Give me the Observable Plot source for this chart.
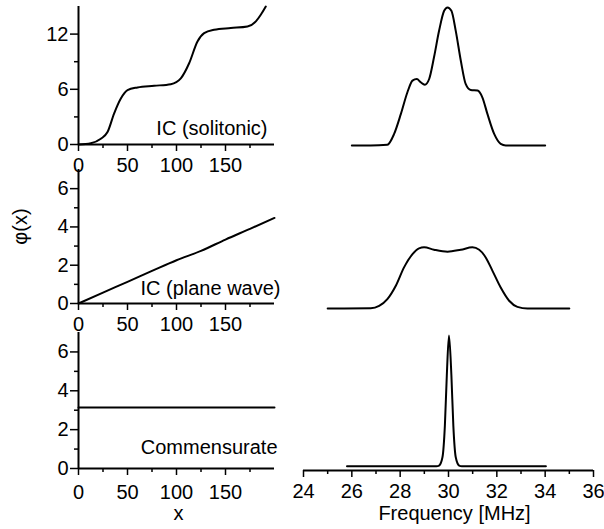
<!DOCTYPE html>
<html><head><meta charset="utf-8">
<script src="https://cdn.jsdelivr.net/npm/d3@7"></script>
<script src="https://cdn.jsdelivr.net/npm/@observablehq/plot@0.6"></script>
<style>
body{margin:0;background:#fff;}
#chart{position:relative;width:604px;height:529px;overflow:hidden;background:#fff;}
#chart svg{position:absolute;left:0;top:0;}
</style></head><body><div id="chart"></div>
<script>
// ---- left panels: phase profile phi(x) ----
const xSol   = [0, 12.6, 22.8, 29.6, 36.3, 43.2, 50, 60.2, 77.2, 94.2, 104.4, 112.9, 121.4, 128.2, 138.4, 155.4, 172.4, 181, 186, 191.1];
const phiSol = [0, 0.14, 0.62, 1.35, 3.36, 5.0, 5.91, 6.2, 6.38, 6.56, 7.19, 8.83, 11.2, 12.1, 12.47, 12.66, 12.83, 13.38, 14.1, 15.0];
const xPW    = [0, 25, 50, 75, 100, 125, 150, 175, 200];
const phiPW  = [0, 0.57, 1.13, 1.7, 2.26, 2.75, 3.34, 3.9, 4.47];
const xCom   = [0, 200];
const phiCom = [3.14, 3.14];
// ---- right panels: NMR spectra (arbitrary intensity) ----
const f1 = [26, 26.78, 27.47, 27.75, 28.03, 28.30, 28.51, 28.69, 28.85, 29.02, 29.2, 29.4, 29.61, 29.82, 29.96, 30.12, 30.3, 30.51, 30.71, 30.92, 31.2, 31.4, 31.61, 31.89, 32.16, 32.37, 34];
const s1 = [0, 0, 0.005, 0.084, 0.229, 0.386, 0.47, 0.482, 0.458, 0.441, 0.482, 0.639, 0.831, 0.976, 1.0, 0.976, 0.831, 0.614, 0.446, 0.402, 0.398, 0.349, 0.229, 0.084, 0.012, 0, 0];
const f2 = [25, 26.78, 27.13, 27.47, 27.82, 28.16, 28.51, 28.78, 28.99, 29.4, 29.96, 30.51, 30.99, 31.27, 31.54, 31.82, 32.16, 32.51, 32.85, 33.27, 35];
const s2 = [0, 0.002, 0.019, 0.068, 0.165, 0.298, 0.394, 0.436, 0.443, 0.426, 0.412, 0.426, 0.443, 0.426, 0.370, 0.273, 0.152, 0.056, 0.012, 0, 0];
const f3 = [25.8, 29.5, 29.61, 29.75, 29.85, 29.93, 30.02, 30.12, 30.2, 30.3, 30.44, 30.55, 34.03];
const s3 = [0, 0, 0.005, 0.065, 0.295, 0.659, 0.949, 0.659, 0.295, 0.065, 0.005, 0, 0];
// ---- ticks and labels ----
const xTicks = [0, 50, 100, 150];
const xMinor = [25, 75, 125, 175];
const yTicksSol = [0, 6, 12];
const yMinorSol = [3, 9];
const yTicks = [0, 2, 4, 6];
const yMinor = [1, 3, 5];
const fTicks = [24, 26, 28, 30, 32, 34, 36];
const fMinor = [25, 27, 29, 31, 33, 35];
const labelSol = "IC (solitonic)";
const labelPW = "IC (plane wave)";
const labelCom = "Commensurate";
const yLabel = "φ(x)";
const xLabel = "x";
const fLabel = "Frequency [MHz]";
const specMin = -0.031;

const W = 604, H = 529;
const FONT = "'Liberation Sans', Arial, Helvetica, sans-serif";
const base = (o) => Plot.plot(Object.assign({
  width: W, height: H,
  style: {background: "transparent", fontFamily: FONT, fontSize: "20px", color: "#000", overflow: "visible"}
}, o));

function leftPanel({xs, ys, yDomain, yT, yM, mTop, mBottom, label, ldx, ldy, xPad, extra = []}) {
  return base({
    marginLeft: 78, marginRight: 330, marginTop: mTop, marginBottom: mBottom,
    x: {domain: [0, 200], label: null},
    y: {domain: yDomain, label: null},
    marks: [
      Plot.axisY(yT, {tickSize: 8, tickPadding: 2, strokeWidth: 1.5, label: null}),
      Plot.axisY(yM, {tickSize: 4, fill: "none", strokeWidth: 1.5, label: null}),
      Plot.axisX(xTicks, {tickSize: 7, tickPadding: xPad, strokeWidth: 1.5, label: null}),
      Plot.axisX(xMinor, {tickSize: 4, fill: "none", strokeWidth: 1.5, label: null}),
      Plot.ruleX([0], {strokeWidth: 2}),
      Plot.ruleY([0], {strokeWidth: 2}),
      Plot.line(xs, {x: xs, y: ys, curve: "monotone-x", strokeWidth: 2}),
      Plot.text([label], {frameAnchor: "bottom-right", textAnchor: "end", lineAnchor: "middle", dx: ldx, dy: ldy}),
      ...extra
    ]
  });
}

function rightPanel({fs, ss, yDomain, mTop, mBottom, axes = false}) {
  const marks = [Plot.line(fs, {x: fs, y: ss, curve: "monotone-x", strokeWidth: 2})];
  if (axes) {
    marks.unshift(
      Plot.axisX(fTicks, {tickSize: 7, tickPadding: 6, strokeWidth: 1.5, label: null}),
      Plot.axisX(fMinor, {tickSize: 4, fill: "none", strokeWidth: 1.5, label: null}),
      Plot.ruleY([specMin], {strokeWidth: 2}),
      Plot.text([fLabel], {frameAnchor: "bottom", lineAnchor: "bottom", dx: 6, dy: 49.5})
    );
  }
  return base({
    marginLeft: 303, marginRight: 11, marginTop: mTop, marginBottom: mBottom,
    x: {domain: [24, 36], label: null, axis: axes ? undefined : null},
    y: {domain: yDomain, label: null, axis: null},
    marks
  });
}

const chart = document.getElementById("chart");
chart.append(
  leftPanel({xs: xSol, ys: phiSol, yDomain: [0, 15], yT: yTicksSol, yM: yMinorSol, mTop: 6, mBottom: 385,
             label: labelSol, ldx: -7, ldy: -16, xPad: 6}),
  leftPanel({xs: xPW, ys: phiPW, yDomain: [0, 7], yT: yTicks, yM: yMinor, mTop: 169, mBottom: 226,
             label: labelPW, ldx: 6, ldy: -15, xPad: 6,
             extra: [Plot.text([yLabel], {frameAnchor: "left", rotate: -90, textAnchor: "middle", lineAnchor: "middle", dx: -58, dy: -10})]}),
  leftPanel({xs: xCom, ys: phiCom, yDomain: [0, 7], yT: yTicks, yM: yMinor, mTop: 332, mBottom: 61,
             label: labelCom, ldx: 3, ldy: -21, xPad: 9,
             extra: [Plot.text([xLabel], {frameAnchor: "bottom", lineAnchor: "bottom", dx: 2, dy: 51})]}),
  rightPanel({fs: f1, ss: s1, yDomain: [0, 1], mTop: 7, mBottom: 384}),
  rightPanel({fs: f2, ss: s2, yDomain: [0, 1], mTop: 170, mBottom: 221}),
  rightPanel({fs: f3, ss: s3, yDomain: [specMin, 1], mTop: 328, mBottom: 59, axes: true})
);
</script></body></html>
